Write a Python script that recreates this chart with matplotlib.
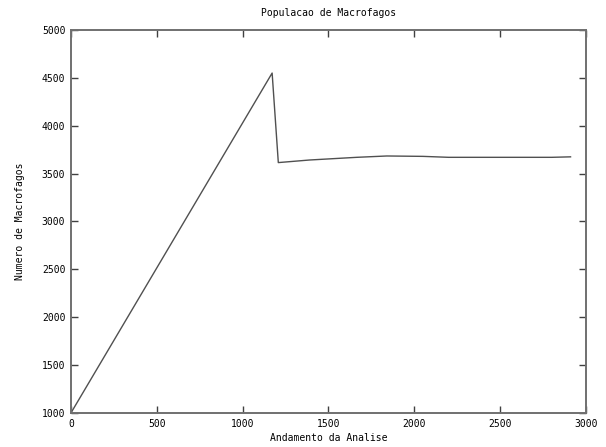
import matplotlib
matplotlib.use("Agg")
import matplotlib.pyplot as plt

# values
passos = [0, 1172, 1208, 1390, 1665, 1840, 2050, 2200, 2800, 2910]
macrofagos = [1000, 4550, 3615, 3642, 3670, 3684, 3680, 3670, 3670, 3675]

x_ticks = [0, 500, 1000, 1500, 2000, 2500, 3000]
y_ticks = [1000, 1500, 2000, 2500, 3000, 3500, 4000, 4500, 5000]

plt.rcParams['font.family'] = ['DejaVu Sans Mono']
fig = plt.figure(figsize=(6.06, 4.47), dpi=100)
ax = fig.add_axes([0.117, 0.076, 0.85, 0.857])

ax.plot(passos, macrofagos, color='#505050', linewidth=1.0)

ax.set_xlim(0, 3000)
ax.set_ylim(1000, 5000)
ax.set_xticks(x_ticks)
ax.set_yticks(y_ticks)
ax.tick_params(direction='in', length=5, width=1, color='#404040',
               top=True, right=True, labelsize=7, pad=4)
for s in ax.spines.values():
    s.set_color('#707070')
    s.set_linewidth(1.4)

ax.set_title('Populacao de Macrofagos', fontsize=7, pad=10)
ax.set_xlabel('Andamento da Analise', fontsize=7, labelpad=3)
ax.set_ylabel('Numero de Macrofagos', fontsize=7, labelpad=12)

fig.savefig('out.png', dpi=100)
